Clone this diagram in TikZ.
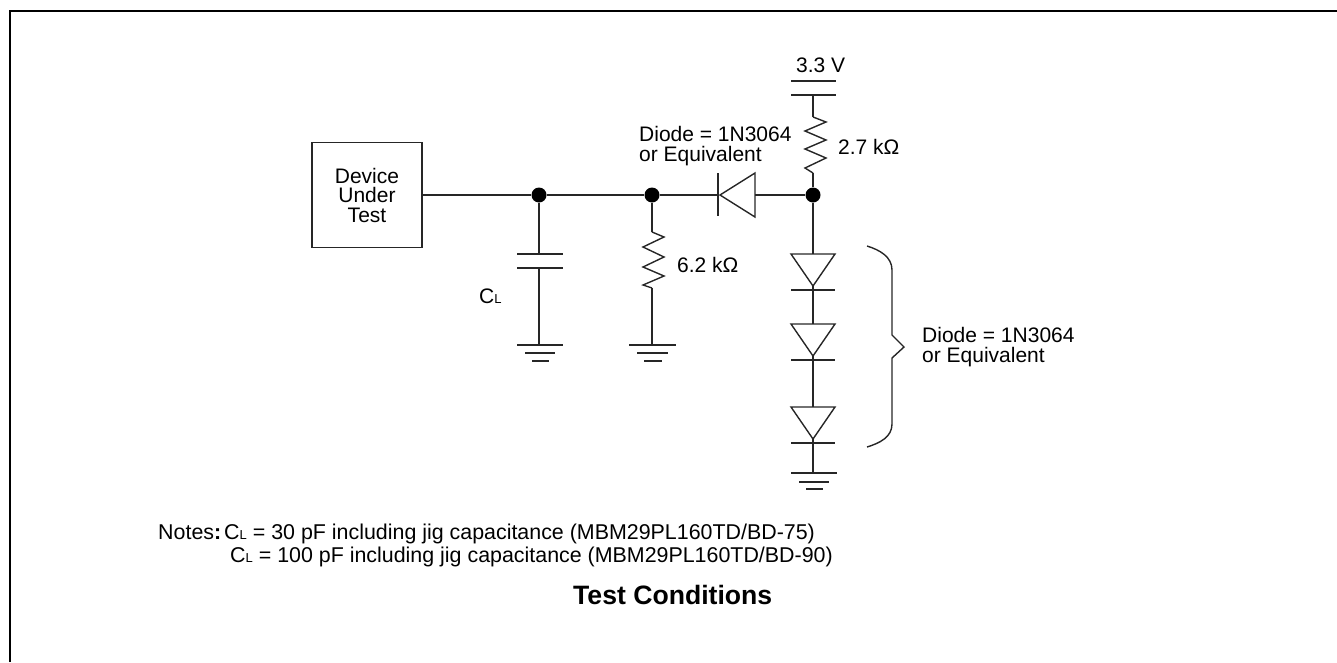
\documentclass[tikz,border=0pt]{standalone}
\usepackage{fontspec}
\setmainfont{Liberation Sans}
\newcommand{\subL}{{\fontsize{13}{13}\selectfont L}}
\tikzset{
  x=1pt,y=-1pt,
  wire/.style={line width=1.7pt,black!85,line join=miter},
  thin wire/.style={line width=1.4pt,black!85},
  junction/.style={circle,fill=black,inner sep=0pt,minimum size=15pt},
  lab/.style={inner sep=0pt,anchor=base west,font=\fontsize{21}{19}\selectfont,align=left},
  note/.style={inner sep=0pt,anchor=base west,font=\fontsize{21.4}{20}\selectfont},
  dut/.style={draw=black!85,line width=1.7pt,inner sep=0pt,minimum width=110pt,minimum height=105pt,align=center,font=\fontsize{21}{19.5}\selectfont}
}
\begin{document}
\begin{tikzpicture}
\useasboundingbox (0,0) rectangle (1337,662);
\draw[line width=2pt] (10,662) -- (10,11) -- (1337,11);
% nodes
\node[dut] (dev) at (367,195) {Device\\Under\\Test};
\node[junction] (j1) at (539,195) {};
\node[junction] (j2) at (652,195) {};
\node[junction] (j3) at (813,195) {};
% coordinates of component terminals
\coordinate (capT) at (539,254);
\coordinate (capB) at (539,268);
\coordinate (g1) at (539,345);
\coordinate (r2T) at (652,232);
\coordinate (r2B) at (652,288);
\coordinate (g2) at (652,345);
\coordinate (dcK) at (718,195);
\coordinate (dcA) at (755,195);
\coordinate (vB) at (813,95);
\coordinate (r1T) at (813,117);
\coordinate (r1B) at (813,173);
\coordinate (d1T) at (813,254);
\coordinate (d1B) at (813,286);
\coordinate (d2T) at (813,324);
\coordinate (d2B) at (813,356);
\coordinate (d3T) at (813,407);
\coordinate (d3B) at (813,439);
\coordinate (g3) at (813,473);
% wires
\draw[wire] (dev.east |- j1) -- (j1) -- (j2) -- (dcK);
\draw[wire] (dcA) -- (j3);
\draw[wire] (j1) -- (capT);
\draw[wire] (capB) -- (g1);
\draw[wire] (j2) -- (r2T);
\draw[wire] (r2B) -- (g2);
\draw[wire] (vB) -- (r1T);
\draw[wire] (r1B) -- (j3);
\draw[wire] (j3) -- (d1T);
\draw[wire] (d1B) -- (d2T);
\draw[wire] (d2B) -- (d3T);
\draw[wire] (d3B) -- (g3);
% supply plates
\draw[wire] (791,81) -- (836,81);
\draw[wire] (791,95) -- (836,95);
% capacitor
\draw[wire] (517,254) -- (563,254);
\draw[wire] (517,268) -- (563,268);
% resistors
\draw[thin wire] (r1T) -- (826,122) -- (805,131) -- (826,140) -- (805,149) -- (826,158) -- (805,168) -- (r1B);
\draw[thin wire] (r2T) -- (664,237) -- (643,247) -- (664,257) -- (643,267) -- (664,276) -- (643,285) -- (r2B);
% horizontal diode
\draw[wire] (718,173) -- (718,216);
\draw[thin wire] (720,195) -- (755,173) -- (755,217) -- cycle;
% diode stack
\draw[thin wire] (791,254) -- (835,254) -- (d1B) -- cycle;
\draw[wire] (791,290) -- (835,290);
\draw[thin wire] (791,324) -- (835,324) -- (d2B) -- cycle;
\draw[wire] (791,360) -- (835,360);
\draw[thin wire] (791,407) -- (835,407) -- (d3B) -- cycle;
\draw[wire] (791,443) -- (835,443);
% grounds
\draw[wire] (517,345) -- (563,345) (525,353) -- (555,353) (532,361) -- (549,361);
\draw[wire] (629,345) -- (676,345) (637,353) -- (668,353) (644,361) -- (662,361);
\draw[wire] (791,473) -- (837,473) (799,482) -- (829,482) (806,489) -- (823,489);
% brace
\draw[line width=1.4pt,black!85] (867,246) .. controls (880,250) and (892,257) .. (892,270) -- (892,335) -- (904,347) -- (892,358) -- (892,424) .. controls (892,437) and (880,443) .. (867,447);
% labels
\node[lab] (v) at (796,72) {3.3 V};
\node[lab] (r1l) at (838,154) {2.7 k\symbol{"03A9}};
\node[lab] (r2l) at (677,272) {6.2 k\symbol{"03A9}};
\node[lab] (dl1) at (639,141) {Diode = 1N3064};
\node[lab] (dl1b) at (639,161) {or Equivalent};
\node[lab] (dl2) at (922,342) {Diode = 1N3064};
\node[lab] (dl2b) at (922,362) {or Equivalent};
\node[lab] (cl) at (479,303) {C\subL};
\node[note] (n1) at (158,539) {Notes\textbf{:}\hspace{3pt}C\subL{} = 30 pF including jig capacitance (MBM29PL160TD/BD-75)};
\node[note] (n2) at (230,562) {C\subL{} = 100 pF including jig capacitance (MBM29PL160TD/BD-90)};
\node[inner sep=0pt,anchor=base west,font=\fontsize{26.6}{26}\selectfont\bfseries] (t) at (573,604) {Test Conditions};
\end{tikzpicture}
\end{document}
